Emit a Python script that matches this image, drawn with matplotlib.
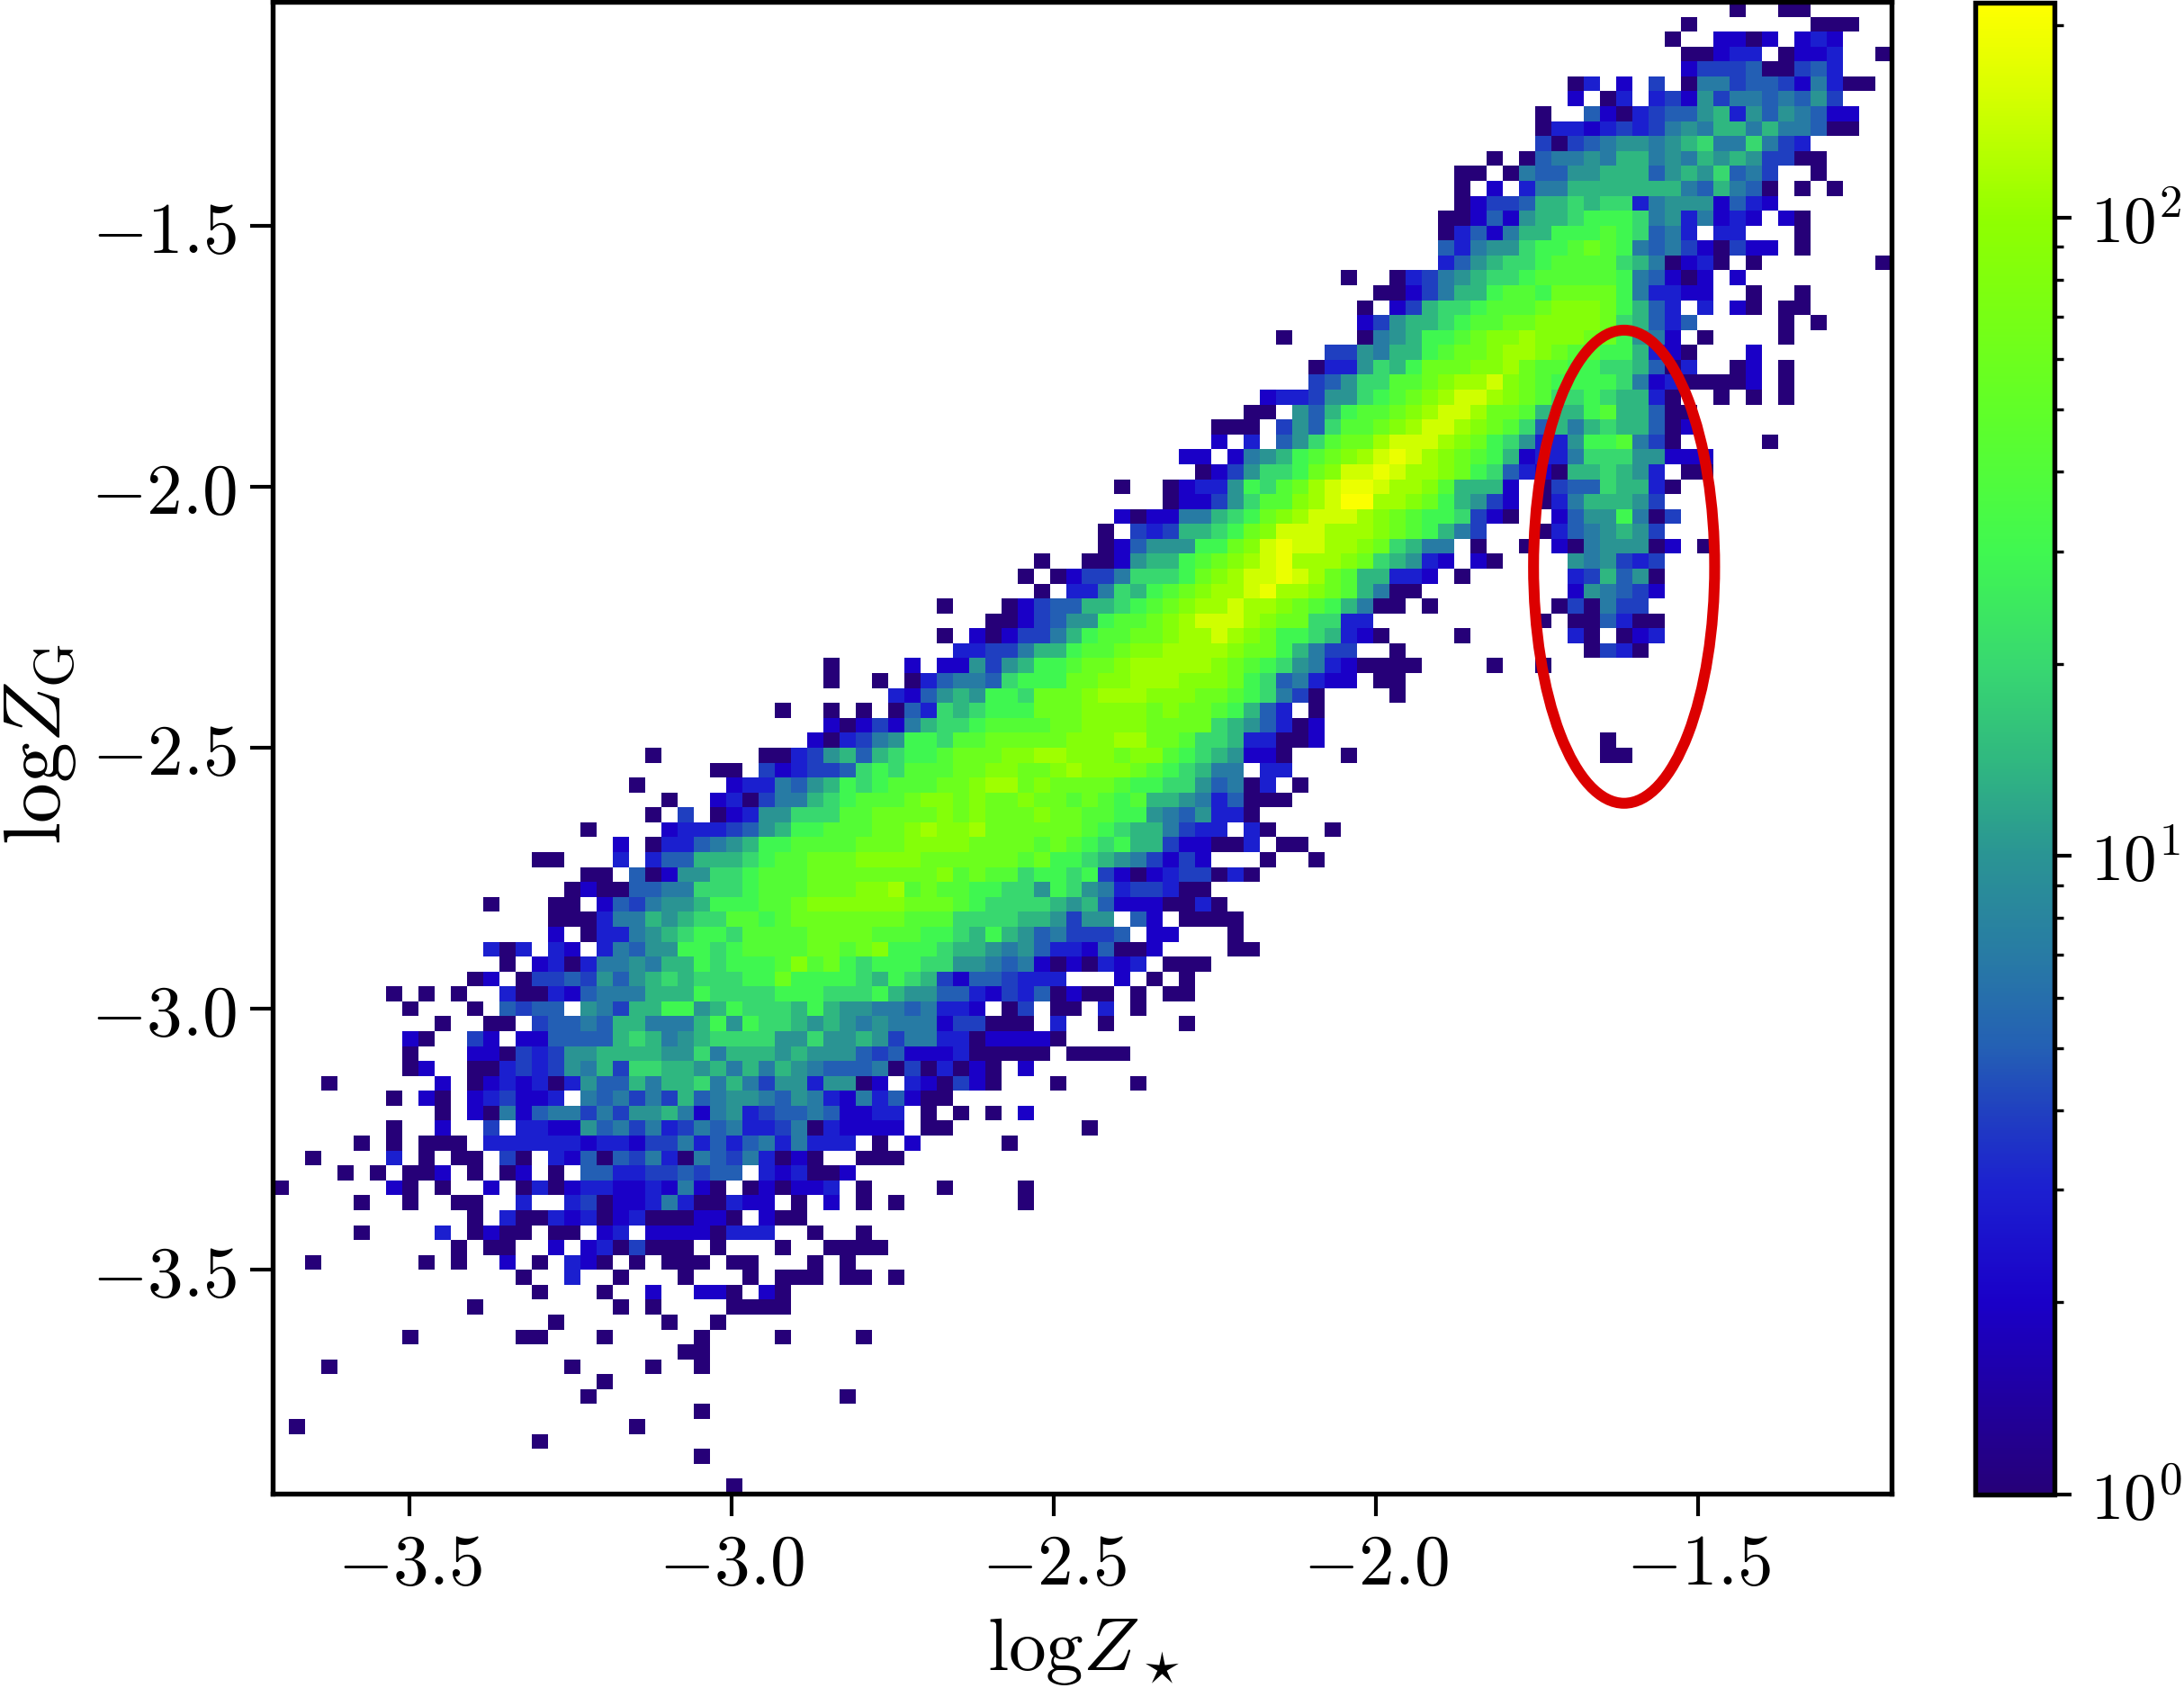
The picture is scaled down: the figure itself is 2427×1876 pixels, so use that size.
import numpy as np
import matplotlib
matplotlib.use("Agg")
import matplotlib.pyplot as plt
from matplotlib.colors import LinearSegmentedColormap, LogNorm
from matplotlib.patches import Ellipse

# 2d histogram, top row first. each row is "startcol:cells ..."
ROW_CELLS = [
    "90:1 93:11",
    "87:1 95:111",
    "86:1 89:22 91:1 92:2 94:232",
    "87:11 89:2 90:33 93:1 94:22 96:3 99:1",
    "87:2 88:444 91:5 92:11 94:4 95:5 96:3",
    "80:1 81:3 83:2 85:4 87:166455426311",
    "80:2 82:13 85:342746656574",
    "78:1 81:52134557837576522",
    "78:13323434676886866511",
    "78:41456776789669643",
    "75:1 77:1 78:566768867687874411",
    "73:11 76:1 77:6557788857879564 95:1",
    "73:1 75:2 77:3668888888658651 94:1 96:1",
    "73:12445889899367772532",
    "72:112527889aaa96736232 93:2 94:1",
    "72:1352688aaaba9563 89:33 94:1",
    "72:536779aabcba656421422 94:1",
    "72:357899abbbb9861231 91:1 99:1",
    "66:1 69:13467899abbbbba65212 90:2",
    "68:1124688abbacccca63322 91:1 94:1",
    "67:1 69:24899abbbcdddca853 88:3 90:21 93:11",
    "67:247889abbccddddc98535 93:1 95:1",
    "62:1 67:1678aabcddedddcca762 88:1 93:1",
    "65:447688abccdeedcbbaa8321 91:2",
    "64:133798acccddecbbaa998513 90:12 93:1",
    "64:45799bbcdeefdcbaaaa962311112 93:1",
    "61:2334779abcdeffedcb99a98831 89:1 91:1 93:1",
    "60:11 63:758abbcdeffeccb888ab88511",
    "58:111 62:4759bbcdeffedcb95868988512",
    "58:2 60:3 62:579bccefffedca97337aab641 92:1",
    "56:22 59:2678abcdefgfedcba8233699977222",
    "57:124799acdffgfeedca95321889873 87:11",
    "52:1 55:12337a9bcefggfeedb8882 78:145598831",
    "55:122479bbdefhheedca8742 78:13688874",
    "52:21226689acdefffedcbaa9421 79:2577a614",
    "51:1 53:434889acdfffeeedcba864 78:13567874",
    "51:125777aacdfgffeedc9866 74:1 77:1 79:21677712 88:1",
    "47:1 50:112788abcdefgeeedc98732 74:21 80:767434",
    "46:1 48:12446999acdeffgfecb88332 73:1 80:348571",
    "47:1 49:33698abcdeefgeedcb8611 80:276542",
    "41:1 45:12455889abcdeefeedcba8611 71:1 79:141644",
    "44:1124577abbcdefffedcc9933 78:1 80:115311",
    "41:1 43:2124468abbccdeefedcaa98321 73:1 80:31 83:123",
    "42:3344688abbcddeeeedcca8644 69:1 81:1431",
    "34:1 39:2 41:227478aabccdeeeeedcba976321111 75:1 78:1",
    "34:1 37:1 39:1356659aaaccddeeedddca956322 68:11",
    "38:325787aa9cccdeeedddccba9641 69:1",
    "31:1 34:1 36:1 38:153989aaacccddddcdccba853 64:1",
    "34:212426899abbbbccddddcccc9875312",
    "33:213467aa9bbcccccdddeeccb99833112 82:1",
    "23:1 30:113478589aabcccddeedddcddba987221 66:1 82:11",
    "27:11 30:4234459a9bbbccddccdedddcba9866 61:33",
    "22:1 28:2336578a9abbbccdeecdccccbaa9975613 63:1",
    "24:1 27:23146689abbbcddcdccdccbcbab887635111",
    "23:1 25:4 27:1 28:2377999bbccccdcdcccdccbbaa7657331",
    "19:1 24:23334578aabbbccdeddeccccccba9886433 60:31 65:1",
    "21:2 23:1335678aabbbbcccddddccccbcba9a88422113 62:11",
    "16:11 21:3 23:3558889abbcccddddccccccbcaa98764242 61:1 64:1",
    "19:11 22:5127799abbbccccccccdbcbb9aa9a4212344131",
    "18:12115566999abbbcccddebcbbaa997a976344311",
    "13:1 17:11 20:2546778aaabbcddddddcccba999987852221131",
    "17:111 20:36687899bbabcccccccbbb9999887477 53:52 56:1111",
    "17:2 19:1336789aa9bbbbccccbbbaa98a87564445 54:22 59:1",
    "13:3 14:1 15:3 17:32 20:36577aa9abbbbccbcdaaa98876753325112 59:11",
    "14:1 16:2313667688a9aaabdbca9aaa99776562121323 55:111",
    "12:12 15:14454757898999aacaaaa98a9842554333 52:2 54:1 56:1",
    "7:1 9:1 11:1 14:311325666888a9999aaa999a87755324351211 53:1 55:11",
    "8:1 12:1 14:5455 19:76488aa78a9998a8776656332 45:14 48:11 51:3 53:1",
    "10:1 13:11 16:45565886668a7a99878767666244111 48:3 51:1 56:1",
    "8:21 12:42 15:2255558986789999779778746633122221",
    "8:1 12:221434778888779688878777545222311111 49:1111",
    "8:12 12:113434768499887868687655561413121 46:2",
    "3:1 10:2 12:12323137558688968647737712 39:321421 48:1 53:1",
    "7:1 9:21 12:234223 19:65646485677657632635211",
    "10:1 12:216256646477862673455652233 40:1 42:1 44:1 46:2",
    "7:1 10:2 13:4 15:332275646346563346132222 40:11 50:1",
    "5:1 7:1 9:111 13:33333323324463535636333 37:1 39:2 45:1",
    "2:1 7:3 9:1 11:11 14:41 17:32515463165463121 36:111",
    "4:1 6:1 8:112 12:1 14:12 17:1 19:5533445455 30:323112",
    "0:1 7:21 10:1 13:2 15:1312332232621 29:121223 36:1 41:1 46:1",
    "5:1 8:1 11:11 15:3 18:3412236311322 32:1 34:2 36:1 38:1 46:1",
    "12:1 14:311323123111221 30:211",
    "5:1 10:3 12:1211 17:11 20:23 23:22221333 33:1 36:1",
    "11:1 13:11 17:2 19:2314111 27:1 31:1 34:1111",
    "2:1 9:1 11:1 14:2 16:1 18:321 22:1 24:111 28:11 33:1 35:1",
    "15:1 18:3 21:1 25:1 29:1 31:111 35:11 38:1",
    "16:1 20:1 23:2 26:221 30:21",
    "12:1 21:1 23:1 28:1111",
    "17:1 24:1 27:1",
    "8:1 15:11 20:1 26:1 31:1 36:1",
    "25:11",
    "3:1 18:1 23:1 26:1",
    "20:1",
    "19:1 35:1",
    "26:1",
    "1:1 22:1",
    "16:1",
    "26:1",
    "",
    "28:1",
]

# what each cell letter stands for, in counts per bin
LEVEL_COUNTS = {"1": 1, "2": 2, "3": 3, "4": 4, "5": 5, "6": 7, "7": 10, "8": 14,
                "9": 20, "a": 30, "b": 42, "c": 60, "d": 85, "e": 110, "f": 150,
                "g": 185, "h": 210}

CMAP_LOGS = [0, 0.3, 0.48, 0.6, 0.7, 0.85, 1.0, 1.15, 1.3, 1.48, 1.7, 2.0, 2.2, 2.337]
CMAP_COLORS = ["#260078", "#1a00c8", "#1c20d0", "#2040c0", "#2460b4", "#287ca4", "#2a9494",
               "#30b880", "#38d870", "#40f850", "#60ff28", "#90ff00", "#d8ff00", "#ffff00"]

XTICKS = [-3.5, -3.0, -2.5, -2.0, -1.5]
YTICKS = [-3.5, -3.0, -2.5, -2.0, -1.5]
XLIM = (-3.712, -1.2)
YLIM = (-3.93, -1.07)
VMIN, VMAX = 1, 217


def build_grid(rows):
    grid = np.full((100, 100), np.nan)
    for r, row in enumerate(rows):
        for chunk in row.split():
            start, cells = chunk.split(":")
            for i, ch in enumerate(cells):
                grid[r, int(start) + i] = LEVEL_COUNTS[ch]
    return grid


plt.rcParams["mathtext.fontset"] = "cm"
plt.rcParams["font.family"] = "serif"
plt.rcParams["axes.linewidth"] = 1.3

W, H = 2427, 1876
fig = plt.figure(figsize=(W / 300, H / 300), dpi=300)
ax = fig.add_axes([303 / W, 1 - 1660 / H, (2102 - 303) / W, (1660 - 2) / H])
cax = fig.add_axes([2195 / W, 1 - 1661 / H, (2283 - 2195) / W, (1661 - 3) / H])

cmap = LinearSegmentedColormap.from_list(
    "zmap", [(l / CMAP_LOGS[-1], c) for l, c in zip(CMAP_LOGS, CMAP_COLORS)], N=512)
cmap.set_bad("white")

grid = build_grid(ROW_CELLS)
im = ax.imshow(np.ma.masked_invalid(grid), extent=(*XLIM, *YLIM), aspect="auto",
               interpolation="nearest", cmap=cmap, norm=LogNorm(vmin=VMIN, vmax=VMAX))

ax.add_patch(Ellipse((-1.615, -2.153), 0.281, 0.907, fill=False, edgecolor="#dc0000", linewidth=2.9))

ax.set_xlim(*XLIM)
ax.set_ylim(*YLIM)
ax.set_xticks(XTICKS, labels=[f"$-{abs(v):.1f}$" for v in XTICKS])
ax.set_yticks(YTICKS, labels=[f"$-{abs(v):.1f}$" for v in YTICKS])
ax.tick_params(axis="x", labelsize=19, width=1.0, length=6, pad=4)
ax.tick_params(axis="y", labelsize=19, width=1.0, length=6, pad=3.8)
ax.set_xlabel(r"$\mathrm{log}Z_\star$", fontsize=20, va="center")
ax.set_ylabel(r"$\mathrm{log}Z_{\mathrm{G}}$", fontsize=21.5, va="center")
ax.xaxis.set_label_coords(0.5008, -0.1055)
ax.yaxis.set_label_coords(-0.1445, 0.502)

cb = fig.colorbar(im, cax=cax)
cb.set_ticks([1, 10, 100], labels=["$10^{0}$", "$10^{1}$", "$10^{2}$"])
cax.tick_params(which="major", labelsize=17.5, width=1.0, length=4.6, pad=5)
cax.tick_params(which="minor", width=0.8, length=2.4)

fig.savefig("out.png", dpi=300)
